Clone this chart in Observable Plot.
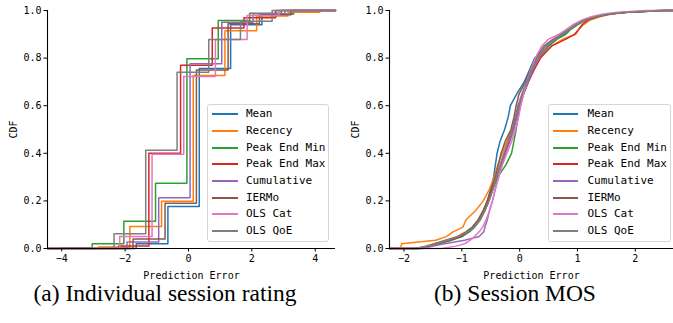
<!DOCTYPE html>
<html><head><meta charset="utf-8">
<script src="https://cdn.jsdelivr.net/npm/d3@7"></script>
<script src="https://cdn.jsdelivr.net/npm/@observablehq/plot@0.6"></script>
<style>
body{margin:0;background:#fff;}
#wrap{position:relative;width:673px;height:323px;overflow:hidden;font-family:"DejaVu Sans Mono",monospace;}
.panel{position:absolute;top:0;}
.legend{position:absolute;border:1px solid #d5d5d5;border-radius:3px;background:rgba(255,255,255,0.85);box-sizing:border-box;}
.legend .row{position:absolute;left:0;height:16px;font-size:11px;line-height:16px;white-space:nowrap;color:#000;}
.legend .sw{position:absolute;top:7px;height:2px;}
.caption{position:absolute;font-family:"Liberation Serif","Times New Roman",serif;font-size:23.5px;line-height:23.5px;white-space:nowrap;color:#000;text-align:center;}
</style></head><body>
<div id="wrap"></div>
<script>
// ---------- shared ----------
const names = ["Mean","Recency","Peak End Min","Peak End Max","Cumulative","IERMo","OLS Cat","OLS QoE"];
const colors = ["#1f77b4","#ff7f0e","#2ca02c","#d62728","#9467bd","#8c564b","#e377c2","#7f7f7f"];
const yTicks = [0,0.2,0.4,0.6,0.8,1.0];

// ---------- (a) Individual session rating: step positions and CDF after each step ----------
const indDomain = [-4.45, 4.64];
const indTicks = [-4,-2,0,2,4];
const indMeanX = [-1.65,-0.65,0.34,1.33,2.32,3.32];
const indMeanY = [0.02,0.176,0.756,0.94,0.985,1.0];
const indRecencyX = [-2.84,-1.85,-0.85,0.15,1.15,2.15,3.14,4.14];
const indRecencyY = [0.006,0.092,0.199,0.727,0.915,0.977,0.993,1.0];
const indPeakMinX = [-4.04,-3.04,-2.04,-1.04,-0.05,0.94,1.93,2.93];
const indPeakMinY = [0.003,0.02,0.115,0.274,0.797,0.958,0.988,1.0];
const indPeakMaxX = [-2.2,-1.25,-0.25,0.75,1.75,2.75];
const indPeakMaxY = [0.01,0.40,0.77,0.926,0.97,1.0];
const indCumX = [-1.94,-0.94,0.05,1.05,2.04,3.04];
const indCumY = [0.027,0.213,0.776,0.951,0.986,1.0];
const indIermoX = [-1.75,-0.74,0.25,1.25,2.24,3.24];
const indIermoY = [0.04,0.19,0.75,0.944,0.982,1.0];
const indOlsCatX = [-2.17,-1.15,-0.15,0.85,1.85,2.85];
const indOlsCatY = [0.05,0.396,0.723,0.878,0.979,1.0];
const indOlsQoeX = [-2.35,-1.35,-0.36,0.64,1.64,2.64];
const indOlsQoeY = [0.062,0.413,0.741,0.878,0.955,1.0];

// ---------- (b) Session MOS: error at given CDF levels ----------
const mosDomain = [-2.25, 2.66];
const mosTicks = [-2,-1,0,1,2];
const mosLevels = [0,0.01,0.02,0.035,0.05,0.07,0.09,0.12,0.16,0.2,0.25,0.3,0.35,0.4,0.45,0.5,0.55,0.6,0.65,0.7,0.75,0.8,0.85,0.88,0.9,0.92,0.94,0.96,0.975,0.985,0.993,1.0];
const mosMean    = [-1.72,-1.55,-1.4,-1.2,-1.0,-0.88,-0.78,-0.7,-0.62,-0.56,-0.5,-0.45,-0.42,-0.39,-0.34,-0.26,-0.2,-0.16,-0.05,0.08,0.17,0.26,0.5,0.62,0.76,0.86,0.98,1.12,1.35,1.55,1.85,2.45];
const mosRecency = [-2.05,-2.05,-2.04,-1.45,-1.27,-1.15,-0.98,-0.93,-0.76,-0.63,-0.52,-0.44,-0.38,-0.3,-0.22,-0.14,-0.07,0.0,0.06,0.15,0.24,0.33,0.55,0.75,0.97,1.02,1.1,1.22,1.4,1.6,1.9,2.4];
const mosPeakMin = [-1.75,-1.55,-1.4,-1.18,-1.0,-0.87,-0.78,-0.68,-0.6,-0.53,-0.46,-0.38,-0.24,-0.14,-0.1,-0.06,-0.03,0.01,0.06,0.14,0.22,0.32,0.5,0.65,0.8,0.88,1.0,1.15,1.35,1.55,1.85,2.5];
const mosPeakMax = [-1.75,-1.58,-1.45,-1.22,-1.02,-0.9,-0.8,-0.7,-0.6,-0.54,-0.47,-0.4,-0.33,-0.26,-0.18,-0.11,-0.06,-0.01,0.07,0.15,0.25,0.36,0.55,0.8,0.95,1.02,1.08,1.18,1.35,1.55,1.85,2.5];
const mosCum     = [-1.65,-1.5,-1.3,-0.95,-0.7,-0.62,-0.6,-0.56,-0.52,-0.47,-0.42,-0.37,-0.31,-0.24,-0.17,-0.1,-0.05,0.0,0.07,0.15,0.23,0.32,0.47,0.62,0.72,0.85,0.97,1.12,1.32,1.52,1.8,2.4];
const mosIermo   = [-1.8,-1.62,-1.48,-1.28,-1.08,-0.93,-0.82,-0.72,-0.63,-0.56,-0.49,-0.42,-0.37,-0.32,-0.25,-0.15,-0.1,-0.06,-0.01,0.1,0.18,0.28,0.42,0.58,0.72,0.84,0.96,1.12,1.32,1.55,1.85,2.55];
const mosOlsCat  = [-1.35,-1.1,-0.95,-0.85,-0.78,-0.7,-0.64,-0.58,-0.52,-0.47,-0.42,-0.36,-0.3,-0.22,-0.14,-0.07,-0.02,0.02,0.07,0.12,0.19,0.27,0.38,0.5,0.68,0.8,0.92,1.08,1.25,1.45,1.7,2.2];
const mosOlsQoe  = [-1.8,-1.6,-1.45,-1.25,-1.05,-0.9,-0.79,-0.69,-0.6,-0.53,-0.46,-0.4,-0.34,-0.27,-0.2,-0.13,-0.08,-0.03,0.04,0.12,0.2,0.3,0.44,0.6,0.73,0.85,0.97,1.13,1.33,1.55,1.85,2.5];

const captionA = "(a) Individual session rating";
const captionB = "(b) Session MOS";

const indSeries = [
  [indMeanX,indMeanY],[indRecencyX,indRecencyY],[indPeakMinX,indPeakMinY],[indPeakMaxX,indPeakMaxY],
  [indCumX,indCumY],[indIermoX,indIermoY],[indOlsCatX,indOlsCatY],[indOlsQoeX,indOlsQoeY]
];
const mosSeries = [mosMean,mosRecency,mosPeakMin,mosPeakMax,mosCum,mosIermo,mosOlsCat,mosOlsQoe].map(xs => [xs, mosLevels]);

function buildRows(series, domain) {
  const rows = [];
  series.forEach(([xs, ys], k) => {
    rows.push({name: names[k], x: domain[0], y: 0});
    xs.forEach((v, i) => rows.push({name: names[k], x: v, y: ys[i]}));
    rows.push({name: names[k], x: domain[1], y: 1});
  });
  return rows;
}

function panel(series, domain, ticks, curve, o) {
  const rows = buildRows(series, domain);
  return Plot.plot({
    width: o.width, height: 280,
    marginLeft: o.ml, marginRight: o.mr, marginTop: 10, marginBottom: 32,
    style: {fontFamily: "'DejaVu Sans Mono', monospace", fontSize: "10px", color: "#000", background: "transparent", overflow: "visible"},
    x: {domain: domain},
    y: {domain: [0, 1]},
    color: {domain: names, range: colors},
    marks: [
      Plot.line(rows, {x: "x", y: "y", z: "name", stroke: "name", strokeWidth: 1.5, curve: curve}),
      Plot.ruleX([domain[0]], {stroke: "#000", strokeWidth: 1.1}),
      Plot.ruleY([0], {stroke: "#000", strokeWidth: 1.1}),
      Plot.axisX({ticks: ticks, tickSize: 3.5, tickPadding: 2.5, tickFormat: d3.format("d"), label: "Prediction Error", labelAnchor: "center", labelArrow: "none", labelOffset: 30}),
      Plot.axisY({ticks: yTicks, tickSize: 3.5, tickPadding: 2.5, tickFormat: d3.format(".1f"), label: "CDF", labelAnchor: "center", labelArrow: "none", labelOffset: 38})
    ]
  });
}

const wrap = document.getElementById("wrap");

function addPanel(svg, left) {
  const d = document.createElement("div");
  d.className = "panel";
  d.style.left = left + "px";
  d.appendChild(svg);
  wrap.appendChild(d);
}

addPanel(panel(indSeries, indDomain, indTicks, "step-after", {width: 340, ml: 47, mr: 5}), 0);
addPanel(panel(mosSeries, mosDomain, mosTicks, "linear", {width: 333, ml: 49, mr: 0}), 340);

function addLegend(left, top, w, h, swLeft, swW, textLeft) {
  const lg = document.createElement("div");
  lg.className = "legend";
  Object.assign(lg.style, {left: left + "px", top: top + "px", width: w + "px", height: h + "px"});
  names.forEach((n, i) => {
    const r = document.createElement("div");
    r.className = "row";
    r.style.top = Math.round(1.3 + i * 16.7) + "px";
    r.style.width = w + "px";
    const sw = document.createElement("div");
    sw.className = "sw";
    Object.assign(sw.style, {left: swLeft + "px", width: swW + "px", background: colors[i]});
    const t = document.createElement("span");
    t.textContent = n;
    Object.assign(t.style, {position: "absolute", left: textLeft + "px"});
    r.appendChild(sw); r.appendChild(t);
    lg.appendChild(r);
  });
  wrap.appendChild(lg);
}
addLegend(207, 104, 122, 138, 4, 26, 38);
addLegend(548, 104, 123, 138, 4, 25, 38.5);

function addCaption(text, center, top) {
  const c = document.createElement("div");
  c.className = "caption";
  c.textContent = text;
  Object.assign(c.style, {left: (center - 200) + "px", width: "400px", top: top + "px"});
  wrap.appendChild(c);
}
addCaption(captionA, 165, 282);
addCaption(captionB, 515, 282);
</script></body></html>
